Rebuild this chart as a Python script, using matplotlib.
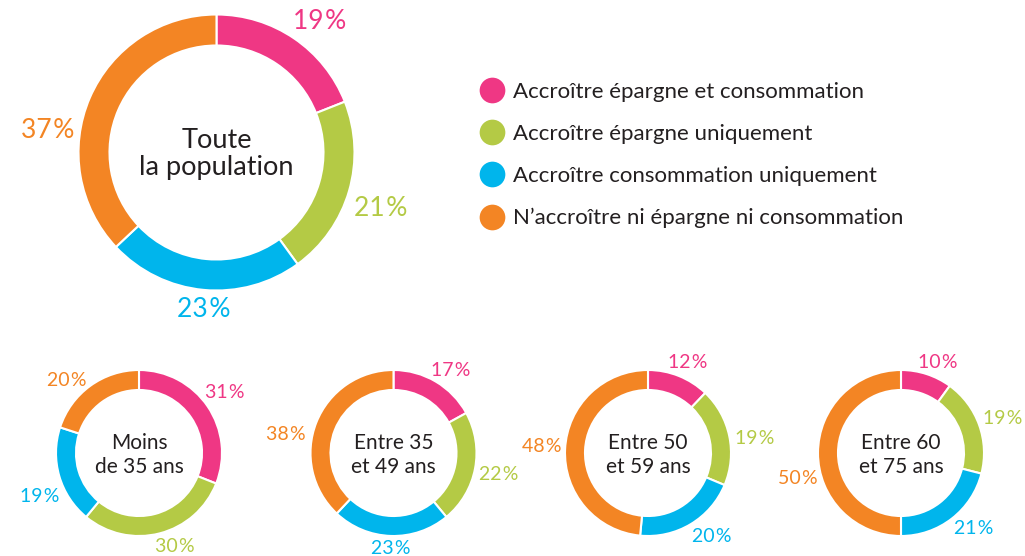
import matplotlib
matplotlib.use("Agg")
import matplotlib.pyplot as plt
from matplotlib.lines import Line2D

plt.rcParams['font.family'] = ['Lato', 'DejaVu Sans']

# données
categories = ["Accroître épargne et consommation",
              "Accroître épargne uniquement",
              "Accroître consommation uniquement",
              "N\u2019accroître ni épargne ni consommation"]
couleurs = ["#EF3784", "#B4CA45", "#00B5EC", "#F38524"]

titre_total = "Toute\nla population"
valeurs_total = [19, 21, 23, 37]

groupes = ["Moins\nde 35 ans", "Entre 35\net 49 ans", "Entre 50\net 59 ans", "Entre 60\net 75 ans"]
valeurs_moins35 = [31, 30, 19, 20]
valeurs_35_49 = [17, 22, 23, 38]
valeurs_50_59 = [12, 19, 20, 48]
valeurs_60_75 = [10, 19, 21, 50]
valeurs_groupes = [valeurs_moins35, valeurs_35_49, valeurs_50_59, valeurs_60_75]

# mise en page (pixels, origine en haut à gauche)
W, H = 1025, 556
TXT = "#231F20"

# position des étiquettes par rapport au centre de chaque anneau
pos_total = [(103, -131), (164, 56), (-13, 157), (-169, -22)]
pos_groupes = [
    [(86, -60), (36, 93), (-99, 44), (-72, -73)],
    [(57, -83), (105, 22), (-3, 95), (-108, -19)],
    [(40, -91), (107, -14), (64, 83), (-106, -6)],
    [(37, -91), (102, -34), (73, 76), (-103, 26)],
]

fig = plt.figure(figsize=(W / 100, H / 100), dpi=100)
ax = fig.add_axes([0, 0, 1, 1])


def anneau(vals, cx, cy, r, w, titre, positions, fs_pct, fs_titre, interligne, dy_titre):
    ax.pie(vals, colors=couleurs, startangle=90, counterclock=False,
           radius=r, center=(cx, H - cy),
           wedgeprops=dict(width=w, edgecolor='white', linewidth=1.5))
    ax.text(cx, H - cy - dy_titre, titre, ha='center', va='center', fontsize=fs_titre,
            color=TXT, linespacing=interligne)
    for v, c, (dx, dy) in zip(vals, couleurs, positions):
        ax.text(cx + dx, H - (cy + dy), f"{v}\u200a%", ha='center', va='center',
                fontsize=fs_pct, color=c)


anneau(valeurs_total, 216.5, 152.5, 138, 31, titre_total, pos_total, 19, 19.5, 1.1, 1)

centres_x = [139, 393.5, 648, 901]
for vals, cx, titre, pos in zip(valeurs_groupes, centres_x, groupes, pos_groupes):
    anneau(vals, cx, 453, 83, 20, titre, pos, 14, 15, 1.25, 2)

poignees = [Line2D([], [], marker='o', linestyle='none', markersize=18.5,
                   markerfacecolor=c, markeredgecolor='none') for c in couleurs]
leg = ax.legend(poignees, categories, loc='upper left',
                bbox_to_anchor=(480 / W, 1 - 82 / H), bbox_transform=fig.transFigure,
                frameon=False, fontsize=16, handlelength=1.1, handletextpad=0.4,
                labelspacing=0.99, borderpad=0, borderaxespad=0)
for t in leg.get_texts():
    t.set_color(TXT)

ax.set_xlim(0, W)
ax.set_ylim(0, H)
ax.set_aspect('equal')
ax.axis('off')

fig.savefig("out.png", dpi=100, facecolor='white')
